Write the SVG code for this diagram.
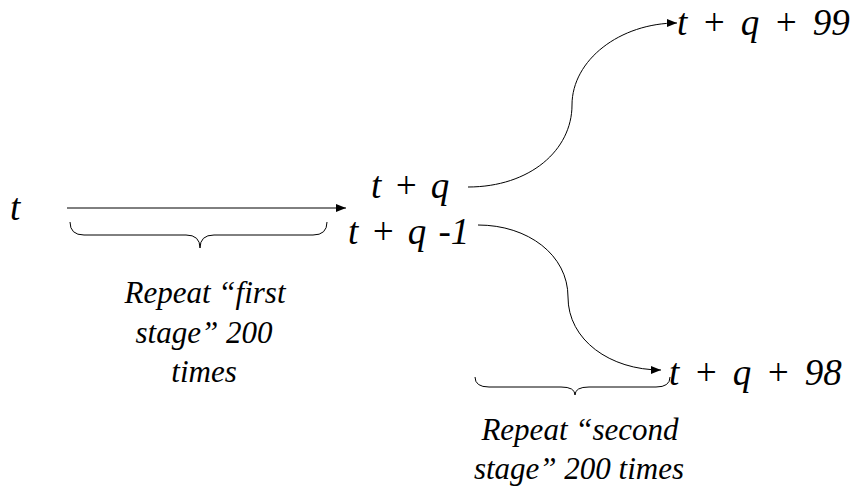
<svg xmlns="http://www.w3.org/2000/svg" width="856" height="489" viewBox="0 0 856 489">
  <style>
    .math { font-family: 'Liberation Serif', 'Times New Roman', serif; font-style: italic; font-size: 37px; fill: #000; word-spacing: 3px; }
    .note { font-family: 'Liberation Serif', 'Times New Roman', serif; font-style: italic; font-size: 31px; fill: #000; text-anchor: middle; }
    .wire { fill: none; stroke: #000; stroke-width: 1; }
  </style>
  <defs>
    <marker id="head" viewBox="0 0 10 8" refX="10" refY="4" markerWidth="10" markerHeight="8" markerUnits="userSpaceOnUse" orient="auto">
      <path d="M0,0 L10,4 L0,8 Z" fill="#000"/>
    </marker>
  </defs>
  <rect width="856" height="489" fill="#fff"/>
  <g id="connectors">
    <path class="wire" d="M67,208 L346,208" marker-end="url(#head)"/>
    <path class="wire" d="M468,187 C530,187 572,150 572,105 C572,60 620,23 677,23" marker-end="url(#head)"/>
    <path class="wire" d="M478,225 C528,225 568,255 568,297 C568,340 610,370 661,370" marker-end="url(#head)"/>
  </g>
  <g id="brace-first">
    <path class="wire" d="M70,222 Q70,235 84,235 L186,235 Q200,235 200,248 Q200,235 214,235 L313,235 Q327,235 327,222"/>
  </g>
  <g id="brace-second">
    <path class="wire" d="M475,377 Q475,387 489,387 L561,387 Q575,387 575,395 Q575,387 589,387 L656,387 Q670,387 670,377"/>
  </g>
  <text id="node-t" class="math" x="10" y="220">t</text>
  <text id="node-tq" class="math" x="371" y="198">t + q</text>
  <text id="node-tq-minus1" class="math" x="348" y="244">t + q -1</text>
  <text id="node-tq99" class="math" x="677" y="35" style="word-spacing: 5px">t + q + 99</text>
  <text id="node-tq98" class="math" x="669" y="385" style="word-spacing: 5px">t + q + 98</text>
  <text id="label-first-1" class="note" x="205" y="303">Repeat “first</text>
  <text id="label-first-2" class="note" x="204" y="343">stage” 200</text>
  <text id="label-first-3" class="note" x="204" y="382">times</text>
  <text id="label-second-1" class="note" x="580" y="440">Repeat “second</text>
  <text id="label-second-2" class="note" x="579" y="479">stage” 200 times</text>
</svg>
